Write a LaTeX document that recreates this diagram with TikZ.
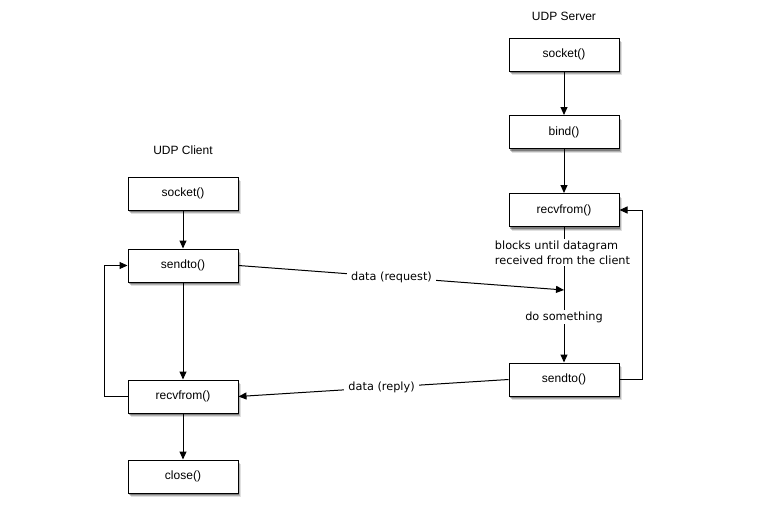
\documentclass[tikz,border=0pt]{standalone}
\usepackage{fontspec}
\setmainfont{Liberation Sans}
\newfontfamily\notefont{DejaVu Sans}
\usetikzlibrary{arrows.meta,shadows}

\tikzset{
  softshadow/.style={
    general shadow={shadow xshift=1.2pt, shadow yshift=-2pt, fill=black, opacity=.30},
    general shadow={shadow xshift=2pt, shadow yshift=-3.2pt, fill=black, opacity=.20},
    general shadow={shadow xshift=2.8pt, shadow yshift=-4.4pt, fill=black, opacity=.12}},
  callbox/.style={draw=black, line width=1pt, fill=white, softshadow,
    minimum width=110pt, minimum height=33pt, inner sep=0pt,
    font=\fontsize{12}{14}\selectfont},
  title/.style={font=\fontsize{12}{14}\selectfont},
  note/.style={font=\notefont\fontsize{11.3}{15}\selectfont, fill=white,
    inner sep=1.5pt, align=left},
  arr/.style={line width=1pt, -{Triangle[length=8pt,width=7pt]}}
}

\begin{document}
\begin{tikzpicture}[x=1pt,y=-1pt]
  \useasboundingbox (0,0) rectangle (766,517);

  % client side
  \node[title] (ctitle) at (183,150) {UDP Client};
  \node[callbox] (csock) at (183,193.5) {socket()};
  \node[callbox] (csend) at (183,265.5) {sendto()};
  \node[callbox] (crecv) at (183,396.5) {recvfrom()};
  \node[callbox] (cclose) at (183,476.5) {close()};

  % server side
  \node[title] (stitle) at (564,16) {UDP Server};
  \node[callbox] (ssock) at (564,54.5) {socket()};
  \node[callbox] (sbind) at (564,132) {bind()};
  \node[callbox] (srecv) at (564,210) {recvfrom()};
  \node[callbox] (ssend) at (564,379.5) {sendto()};

  % client flow
  \draw[arr] (csock) -- (csend);
  \draw[arr] (csend) -- (crecv);
  \draw[arr] (crecv) -- (cclose);
  \draw[arr] (crecv.west) -- ++(-23,0) |- (csend.west);

  % server flow
  \draw[arr] (ssock) -- (sbind);
  \draw[arr] (sbind) -- (srecv);
  \coordinate (rqend) at (564,290);
  \draw[arr] (srecv) -- (ssend)
    node[note, pos=0.19, xshift=-1.5pt] {blocks until datagram\\received from the client}
    node[note, pos=0.665] {do something};
  \draw[arr] (ssend.east) -- ++(23,0) |- (srecv.east);

  % messages between client and server
  \draw[arr] (csend.east) -- (rqend)
    node[note, pos=0.47, inner sep=4pt] {data (request)};
  \draw[arr] (ssend.west) -- (crecv.east)
    node[note, pos=0.47, inner sep=4pt] {data (reply)};
\end{tikzpicture}
\end{document}
